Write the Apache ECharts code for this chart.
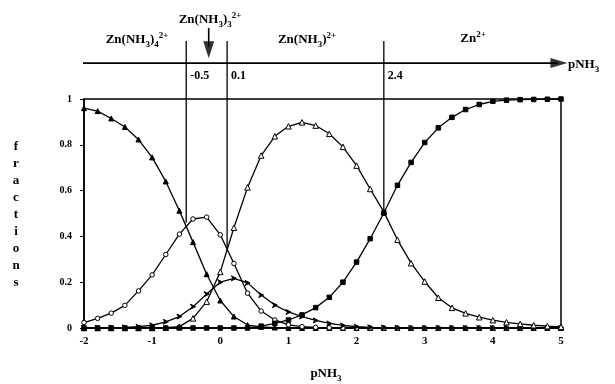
<!DOCTYPE html>
<html><head><meta charset="utf-8">
<script src="https://cdn.jsdelivr.net/npm/echarts/dist/echarts.min.js"></script>
<style>html,body{margin:0;padding:0;background:#fff}#c{width:615px;height:384px}</style>
</head><body><div id="c"></div>
<script>
// ---- data ----
const pNH3 = [-2,-1.8,-1.6,-1.4,-1.2,-1.0,-0.8,-0.6,-0.4,-0.2,0,0.2,0.4,0.6,0.8,1.0,1.2,1.4,1.6,1.8,2.0,2.2,2.4,2.6,2.8,3.0,3.2,3.4,3.6,3.8,4.0,4.2,4.4,4.6,4.8,5.0];
const znNH3_4 = [0.96,0.947,0.915,0.878,0.823,0.745,0.64,0.512,0.375,0.235,0.12,0.05,0.013,0.005,0.002,0,0,0,0,0,0,0,0,0,0,0,0,0,0,0,0,0,0,0,0,0];
const znNH3_3 = [0.024,0.042,0.065,0.099,0.162,0.232,0.321,0.41,0.476,0.484,0.407,0.282,0.152,0.074,0.035,0.014,0.006,0.003,0.001,0,0,0,0,0,0,0,0,0,0,0,0,0,0,0,0,0];
const znNH3_2 = [0,0.001,0.002,0.003,0.006,0.012,0.027,0.05,0.093,0.148,0.2,0.217,0.197,0.144,0.1,0.07,0.05,0.033,0.02,0.011,0.006,0.003,0.002,0.001,0,0,0,0,0,0,0,0,0,0,0,0];
const znNH3_1 = [0,0,0,0,0,0,0.001,0.006,0.042,0.115,0.245,0.438,0.614,0.753,0.837,0.881,0.898,0.884,0.848,0.791,0.709,0.607,0.507,0.385,0.283,0.203,0.132,0.088,0.064,0.047,0.034,0.025,0.018,0.012,0.008,0.005];
const znFree  = [0,0,0,0,0,0,0,0,0,0,0,0,0,0.008,0.02,0.035,0.057,0.089,0.134,0.2,0.288,0.39,0.502,0.623,0.723,0.81,0.874,0.92,0.954,0.976,0.99,0.995,0.997,0.998,0.999,1.0];
// predominance boundaries on the top pNH3 scale
const boundaries = [-0.5, 0.1, 2.4];
const boundaryLabels = ['-0.5', '0.1', '2.4'];
const boundaryCross = [0.46, 0.343, 0.505];

const FONT = '"Liberation Serif","DejaVu Serif",serif';
const pairs = v => pNH3.map((x, i) => [x, v[i]]);
const chart = echarts.init(document.getElementById('c'), null, {renderer: 'canvas'});

function curve(name, vals, symbol, fill, size) {
  return {
    name, type: 'line', data: pairs(vals), symbol, symbolSize: size,
    showAllSymbol: true, smooth: false, clip: false,
    lineStyle: {color: '#000', width: 1.3},
    itemStyle: {color: fill, borderColor: '#000', borderWidth: 1}
  };
}

const TOP = 1.157;     // level of the top pNH3 arrow axis (fraction units above 1)
const LINE_TOP = 1.253;

const series = [
  curve('Zn(NH3)4 2+', znNH3_4, 'triangle', '#000', 5),
  curve('Zn(NH3)3 2+', znNH3_3, 'circle', '#fff', 4.5),
  curve('Zn(NH3)2 2+', znNH3_2, 'path://M0,0L10,5L0,10L3,5Z', '#000', 5),
  curve('Zn(NH3) 2+', znNH3_1, 'triangle', '#fff', 5.5),
  curve('Zn 2+', znFree, 'rect', '#000', 4.5)
];
boundaries.forEach((b, i) => {
  series.push({type: 'line', silent: true, clip: false, symbol: 'none',
    lineStyle: {color: '#000', width: 1.3},
    data: [[b, LINE_TOP], [b, boundaryCross[i]]]});
});
// top arrow axis
series.push({type: 'line', silent: true, clip: false, symbol: 'none',
  lineStyle: {color: '#000', width: 1.7},
  data: [[-2.085, TOP], [4.95, TOP]]});
// arrow shaft pointing to Zn(NH3)3 2+ domain
series.push({type: 'line', silent: true, clip: false, symbol: 'none',
  lineStyle: {color: '#000', width: 1.6},
  data: [[-0.17, 1.31], [-0.17, 1.23]]});
series.push({type: 'scatter', silent: true, clip: false,
  itemStyle: {color: '#000'},
  data: [
    {value: [4.97, TOP], symbol: 'triangle', symbolSize: [10, 17], symbolRotate: -90},
    {value: [-0.17, 1.215], symbol: 'triangle', symbolSize: [11, 17], symbolRotate: 180}
  ]});

const option = {
  animation: false,
  backgroundColor: '#fff',
  grid: {left: 84, right: 54, top: 99, bottom: 56, show: true, borderColor: '#000', borderWidth: 1.5, backgroundColor: 'transparent', outerBoundsMode: 'none'},
  xAxis: {type: 'value', min: -2, max: 5, interval: 1,
    axisLine: {onZero: false, lineStyle: {color: '#000', width: 1.5}},
    axisTick: {show: true, length: 3, lineStyle: {color: '#000'}},
    axisLabel: {color: '#000', fontFamily: FONT, fontWeight: 'bold', fontSize: 11, margin: 8},
    splitLine: {show: false}},
  yAxis: {type: 'value', min: 0, max: 1, interval: 0.2,
    axisLine: {show: true, onZero: false, lineStyle: {color: '#000', width: 1.5}},
    axisTick: {show: true, length: 4, lineStyle: {color: '#000'}},
    axisLabel: {color: '#000', fontFamily: FONT, fontWeight: 'bold', fontSize: 10, margin: 12},
    splitLine: {show: false}},
  series
};
chart.setOption(option);

const m = {fontFamily: FONT, fontWeight: 'bold', fontSize: 13, lineHeight: 18, verticalAlign: 'middle', fill: '#000'};
const s = {fontFamily: FONT, fontWeight: 'bold', fontSize: 9, lineHeight: 9, verticalAlign: 'bottom', fill: '#000'};
const p = {fontFamily: FONT, fontWeight: 'bold', fontSize: 9, lineHeight: 9, verticalAlign: 'top', fill: '#000'};
const rich = {m, s, p};
function label(x, y, text, align) {
  return {type: 'text', x, y, silent: true,
    style: {text, rich, align: align || 'center', verticalAlign: 'middle', fill: '#000'}};
}
const g = [
  label(137, 40, '{m|Zn(NH}{s|3}{m|)}{s|4}{p|2+}'),
  label(210, 20, '{m|Zn(NH}{s|3}{m|)}{s|3}{p|2+}'),
  label(307, 40, '{m|Zn(NH}{s|3}{m|)}{p|2+}'),
  label(473, 39, '{m|Zn}{p|2+}'),
  label(568, 65, '{m|pNH}{s|3}', 'left'),
  label(326, 374, '{m|pNH}{s|3}'),
  {type: 'text', x: 16, y: 215, silent: true,
    style: {text: 'f\nr\na\nc\nt\ni\no\nn\ns', font: 'bold 13px ' + FONT, lineHeight: 17,
      align: 'center', verticalAlign: 'middle', fill: '#000'}}
];
boundaries.forEach((b, i) => {
  const pt = chart.convertToPixel({gridIndex: 0}, [b, TOP]);
  g.push({type: 'text', x: pt[0] + 4, y: pt[1] + 13, silent: true,
    style: {text: boundaryLabels[i], font: 'bold 12px ' + FONT, align: 'left', verticalAlign: 'middle', fill: '#000'}});
});
chart.setOption({graphic: g});
</script>
</body></html>
